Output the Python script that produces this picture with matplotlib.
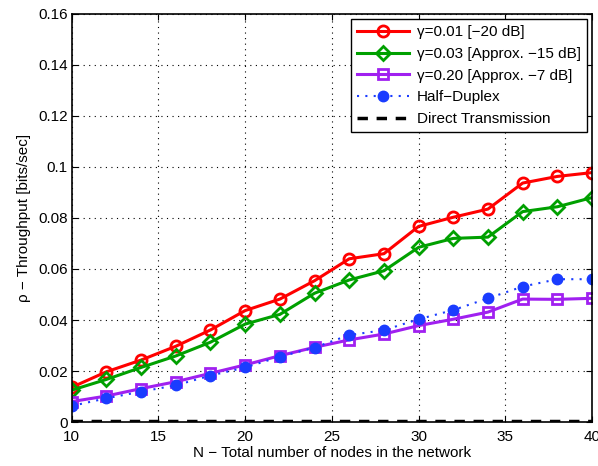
import matplotlib.pyplot as plt
import numpy as np

plt.rcParams['font.family'] = ['Liberation Sans', 'DejaVu Sans']
plt.rcParams['font.size'] = 11

# number of nodes
N = [10, 12, 14, 16, 18, 20, 22, 24, 26, 28, 30, 32, 34, 36, 38, 40]

# throughput for each gamma
g001 = [0.0136, 0.0197, 0.0243, 0.0297, 0.0361, 0.0437, 0.0482, 0.0554,
        0.0640, 0.0660, 0.0767, 0.0803, 0.0835, 0.0937, 0.0963, 0.0978]
g003 = [0.0125, 0.0167, 0.0214, 0.0259, 0.0313, 0.0384, 0.0422, 0.0505,
        0.0557, 0.0593, 0.0685, 0.0720, 0.0725, 0.0825, 0.0844, 0.0880]
g020 = [0.0080, 0.0102, 0.0131, 0.0158, 0.0191, 0.0224, 0.0260, 0.0293,
        0.0322, 0.0345, 0.0378, 0.0403, 0.0431, 0.0482, 0.0481, 0.0485]
half_duplex = [0.0063, 0.0093, 0.0119, 0.0144, 0.0182, 0.0214, 0.0256, 0.0292,
               0.0341, 0.0360, 0.0403, 0.0439, 0.0485, 0.0531, 0.0560, 0.0560]
direct = [0.0005] * len(N)

fig = plt.figure(figsize=(5.98, 4.66), dpi=100)
ax = fig.add_axes([0.120, 0.0944, 0.870, 0.8756])

ax.plot(N, g001, color='#ff0000', lw=2.2, marker='o', ms=8, mfc='none', mew=2,
        label='\u03b3=0.01 [\u221220 dB]')
ax.plot(N, g003, color='#00a000', lw=2.2, marker='D', ms=7, mfc='none', mew=2,
        label='\u03b3=0.03 [Approx. \u221215 dB]')
ax.plot(N, g020, color='#a020f0', lw=2.2, marker='s', ms=6.5, mfc='none', mew=2,
        label='\u03b3=0.20 [Approx. \u22127 dB]')
ax.plot(N, half_duplex, color='#1a3cff', lw=1.5, ls=(0, (1, 3)), marker='o', ms=7.5,
        label='Half\u2212Duplex')
ax.plot(N, direct, color='black', lw=2.5, ls=(0, (3, 2.5)),
        label='Direct Transmission')

ax.set_xlim(10, 40)
ax.set_ylim(0, 0.16)
ax.set_xticks(np.arange(10, 41, 5))
ax.set_yticks(np.arange(0, 0.161, 0.02))
ax.set_yticklabels(['0', '0.02', '0.04', '0.06', '0.08', '0.1', '0.12', '0.14', '0.16'])
ax.tick_params(direction='in', top=True, right=True, length=4)
ax.tick_params(axis='x', pad=6)
ax.tick_params(axis='y', pad=3)
ax.grid(True, color='black', ls=(0, (1, 4)), lw=0.8)
for s in ax.spines.values():
    s.set_linewidth(1.2)

ax.set_xlabel('N \u2212 Total number of nodes in the network', labelpad=1)
ax.set_ylabel('\u03c1 \u2212 Throughput [bits/sec]', labelpad=5)

leg = ax.legend(loc='upper right', fancybox=False, edgecolor='black',
                framealpha=1, borderpad=0.4, handlelength=3.4,
                labelspacing=0.5, borderaxespad=0.35, handletextpad=0.5)
leg.get_frame().set_linewidth(1.0)

fig.savefig('out.png', dpi=100)
